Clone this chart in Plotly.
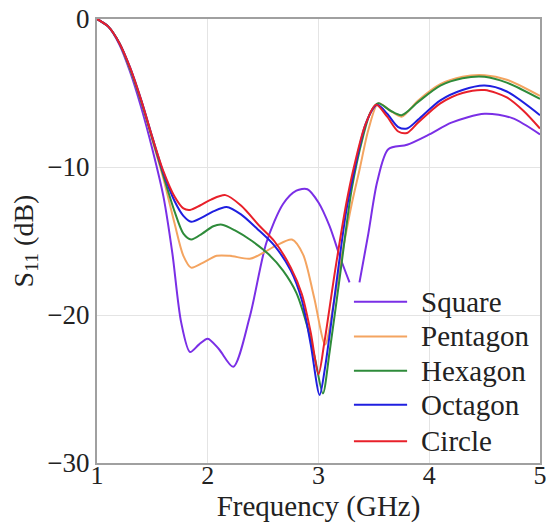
import plotly.graph_objects as go

# ---- data ----
square_f = [1.0, 1.1, 1.2, 1.3, 1.4, 1.5, 1.6, 1.68, 1.76, 1.84, 1.92, 2.0, 2.1, 2.23, 2.38, 2.53, 2.68, 2.8, 2.9, 3.0, 3.1, 3.2, 3.28,
            None, 3.37, 3.45, 3.53, 3.63, 3.8, 4.0, 4.2, 4.5, 4.75, 5.0]
square_s = [0, -0.5, -1.7, -3.6, -6.0, -8.8, -12.0, -15.8, -20.5, -22.5, -22.0, -21.6, -22.3, -23.5, -20.1, -15.1, -12.5, -11.6, -11.5, -12.4, -14.0, -16.2, -17.8,
            None, -17.8, -14.5, -11.0, -8.8, -8.5, -7.8, -7.0, -6.4, -6.7, -7.8]

pentagon_f = [1.0, 1.1, 1.2, 1.3, 1.4, 1.5, 1.6, 1.7, 1.78, 1.85, 1.95, 2.08, 2.2, 2.38, 2.5, 2.62, 2.76, 2.86, 2.96, 3.06, 3.13, 3.22, 3.3, 3.37, 3.45, 3.54, 3.65, 3.75, 3.9, 4.1, 4.3, 4.5, 4.7, 5.0]
pentagon_s = [0, -0.5, -1.6, -3.4, -5.6, -8.2, -10.8, -13.8, -16.0, -16.8, -16.5, -16.0, -16.0, -16.2, -15.8, -15.3, -14.9, -15.9, -18.8, -22.0, -19.5, -15.6, -12.5, -10.2, -7.5, -5.7, -6.2, -6.6, -5.5, -4.4, -3.9, -3.8, -4.1, -5.2]

hexagon_f = [1.0, 1.1, 1.2, 1.3, 1.4, 1.5, 1.6, 1.7, 1.78, 1.85, 1.95, 2.05, 2.13, 2.25, 2.4, 2.55, 2.68, 2.8, 2.9, 2.97, 3.04, 3.1, 3.2, 3.3, 3.4, 3.47, 3.54, 3.65, 3.75, 3.9, 4.1, 4.3, 4.5, 4.7, 5.0]
hexagon_s = [0, -0.5, -1.6, -3.4, -5.6, -8.1, -10.6, -13.0, -14.5, -14.9, -14.5, -14.0, -13.9, -14.3, -15.0, -15.9, -17.0, -18.5, -20.8, -23.0, -25.3, -22.5, -17.0, -11.5, -8.0, -6.3, -5.7, -6.2, -6.5, -5.6, -4.5, -4.0, -3.9, -4.3, -5.4]

octagon_f = [1.0, 1.1, 1.2, 1.3, 1.4, 1.5, 1.6, 1.7, 1.78, 1.85, 1.95, 2.05, 2.17, 2.3, 2.45, 2.6, 2.75, 2.85, 2.93, 3.01, 3.06, 3.15, 3.25, 3.33, 3.43, 3.53, 3.62, 3.72, 3.8, 3.9, 4.1, 4.3, 4.5, 4.7, 5.0]
octagon_s = [0, -0.5, -1.6, -3.3, -5.5, -8.0, -10.4, -12.3, -13.3, -13.7, -13.4, -13.0, -12.7, -13.2, -14.2, -15.3, -17.0, -19.0, -22.0, -25.4, -23.5, -18.5, -13.0, -10.0, -7.0, -5.8, -6.4, -7.3, -7.4, -6.8, -5.5, -4.8, -4.5, -4.9, -6.5]

circle_f = [1.0, 1.1, 1.2, 1.3, 1.4, 1.5, 1.6, 1.7, 1.78, 1.84, 1.93, 2.03, 2.16, 2.3, 2.47, 2.6, 2.75, 2.85, 2.93, 3.0, 3.05, 3.15, 3.25, 3.32, 3.42, 3.52, 3.62, 3.72, 3.8, 3.9, 4.1, 4.3, 4.5, 4.7, 4.85, 5.0]
circle_s = [0, -0.5, -1.6, -3.3, -5.5, -8.0, -10.3, -12.0, -12.8, -12.9, -12.6, -12.2, -11.9, -12.6, -14.0, -15.0, -16.8, -18.6, -21.2, -24.0, -22.0, -17.0, -12.5, -10.0, -7.2, -5.8, -6.6, -7.6, -7.7, -7.0, -5.7, -5.0, -4.8, -5.3, -6.2, -7.4]

names = ["Square", "Pentagon", "Hexagon", "Octagon", "Circle"]
colors = ["#7A2FE6", "#F4A460", "#2E8B3A", "#1F1FE0", "#E8202A"]
series_f = [square_f, pentagon_f, hexagon_f, octagon_f, circle_f]
series_s = [square_s, pentagon_s, hexagon_s, octagon_s, circle_s]

x_ticks = [1, 2, 3, 4, 5]
y_ticks = [0, -10, -20, -30]

FONT = "Times New Roman"

fig = go.Figure()
for n, c, f, s in zip(names, colors, series_f, series_s):
    fig.add_trace(go.Scatter(x=f, y=s, mode="lines", name=n,
                             line=dict(color=c, width=2, shape="spline", smoothing=0.8),
                             connectgaps=False, showlegend=False))

# manual legend (text + sample lines) to match the reference's compact layout
leg_x0, leg_x1, leg_tx = 0.580, 0.700, 0.727
leg_y = [0.363, 0.285, 0.208, 0.131, 0.049]
for n, c, yy in zip(names, colors, leg_y):
    fig.add_shape(type="line", xref="paper", yref="paper", x0=leg_x0, x1=leg_x1, y0=yy, y1=yy,
                  line=dict(color=c, width=2))
    fig.add_annotation(xref="paper", yref="paper", x=leg_tx, y=yy, text=n, showarrow=False,
                       xanchor="left", yanchor="middle", font=dict(family=FONT, size=29, color="#222222"))

fig.update_layout(
    width=546, height=524,
    margin=dict(l=97, r=6, t=19, b=61),
    paper_bgcolor="white", plot_bgcolor="white",
    font=dict(family=FONT, size=28, color="#222222"),
)
fig.update_xaxes(range=[1, 5], tickvals=x_ticks, automargin=False, ticklabeloverflow="allow",
                 showgrid=True, gridcolor="#e4e4e4", gridwidth=1,
                 showline=True, linecolor="#a0a0a0", linewidth=2, mirror=True,
                 ticks="", zeroline=False, ticklabelstandoff=-12,
                 tickfont=dict(family=FONT, size=26),
                 title=dict(text="Frequency (GHz)", font=dict(family=FONT, size=29), standoff=0))
fig.update_yaxes(range=[-30, 0], tickvals=y_ticks, automargin=False, ticklabeloverflow="allow",
                 showgrid=True, gridcolor="#e4e4e4", gridwidth=1,
                 showline=True, linecolor="#a0a0a0", linewidth=2, mirror=True,
                 ticks="", zeroline=False,
                 tickfont=dict(family=FONT, size=27),
                 title=dict(text="S<sub>11</sub> (dB)", font=dict(family=FONT, size=28), standoff=6))

fig.write_html("out.html")
